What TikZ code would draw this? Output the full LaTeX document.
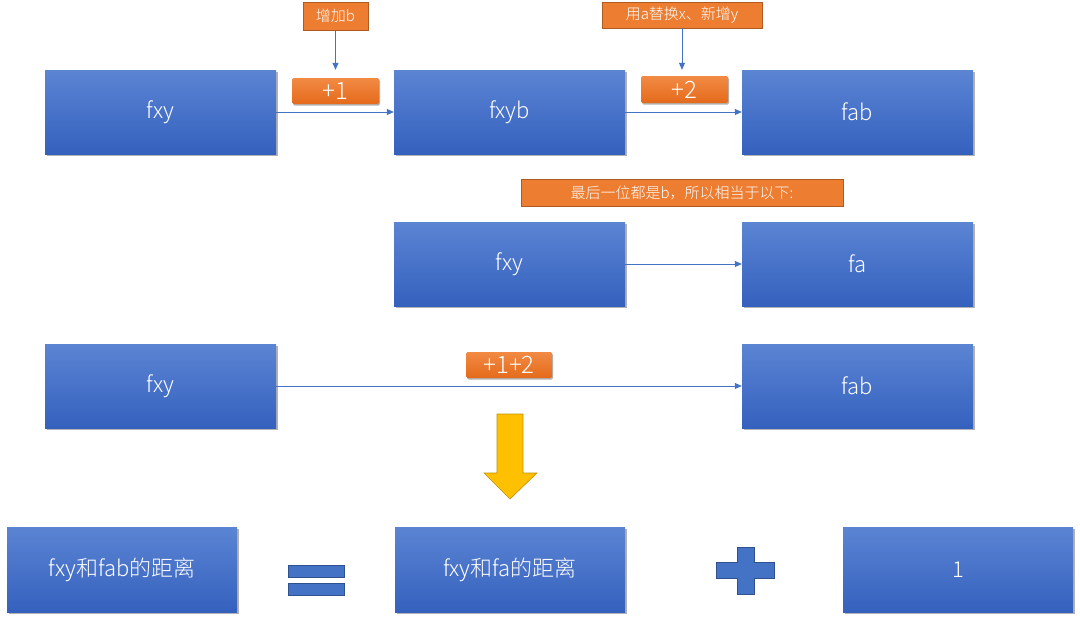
\documentclass[tikz,border=0pt]{standalone}
\usepackage{fontspec}
\setmainfont{Noto Sans CJK SC Light}
\usetikzlibrary{arrows.meta,shadows}
\definecolor{bluetop}{HTML}{5B84D3}
\definecolor{bluebot}{HTML}{3561BE}
\definecolor{blueline}{HTML}{4472C4}
\definecolor{blueedge}{HTML}{2F528F}
\definecolor{orng}{HTML}{ED7D31}
\definecolor{orngtop}{HTML}{F28A44}
\definecolor{orngbot}{HTML}{E46A1B}
\definecolor{orngedge}{HTML}{AE5A21}
\definecolor{yel}{HTML}{FFC000}
\definecolor{yeledge}{HTML}{BF9000}
\tikzset{
  bluebox/.style={draw=none, top color=bluetop, bottom color=bluebot,
    minimum width=231pt, minimum height=84pt, inner sep=0pt,
    text=white, font=\fontsize{22}{26}\selectfont,
    drop shadow={shadow xshift=1.5pt, shadow yshift=-2pt, opacity=0.3, fill=black}},
  notebox/.style={fill=orng, draw=orngedge, line width=0.6pt,
    inner sep=0pt, text=white, font=\fontsize{15}{18}\selectfont},
  plusbox/.style={top color=orngtop, bottom color=orngbot, draw=none,
    rounded corners=1.5pt, inner sep=0pt, text=white,
    font=\fontsize{24}{28}\selectfont,
    drop shadow={shadow xshift=1pt, shadow yshift=-1.5pt, opacity=0.3, fill=black}},
  conn/.style={draw=blueline, line width=0.7pt,
    -{Triangle[length=7pt,width=6pt]}},
  sym/.style={fill=blueline, draw=blueedge, line width=0.6pt},
}
\begin{document}
\begin{tikzpicture}[x=1pt,y=-1pt]
\useasboundingbox (0,0) rectangle (1080,621);
% row 1
\node[bluebox] (a1) at (160.5,112) {fxy};
\node[bluebox] (a2) at (509.5,112) {fxyb};
\node[bluebox] (a3) at (857.5,112) {fab};
% row 2
\node[bluebox] (b1) at (509.5,264) {fxy};
\node[bluebox] (b2) at (857.5,264) {fa};
% row 3
\node[bluebox] (c1) at (160.5,386) {fxy};
\node[bluebox] (c2) at (857.5,386) {fab};
% row 4
\node[bluebox, minimum width=230pt, minimum height=85pt] (d1) at (122,569.5) {fxy和fab的距离};
\node[bluebox, minimum width=230pt, minimum height=85pt] (d2) at (510,569.5) {fxy和fa的距离};
\node[bluebox, minimum width=230pt, minimum height=85pt] (d3) at (958,569.5) {1};
% notes
\node[notebox, minimum width=65pt, minimum height=28pt] (l1) at (335.5,16) {增加b};
\node[notebox, minimum width=160pt, minimum height=26pt] (l2) at (682,15) {用a替换x、新增y};
\node[notebox, minimum width=322pt, minimum height=27pt] (l3) at (682,192.5) {最后一位都是b，所以相当于以下:};
% plus labels
\node[plusbox, minimum width=87pt, minimum height=26pt] (p1) at (335.5,91) {+1};
\node[plusbox, minimum width=87pt, minimum height=27pt] (p2) at (684.5,89.5) {+2};
\node[plusbox, minimum width=86pt, minimum height=26pt] (p3) at (509,365) {+1+2};
% connectors
\draw[conn, shorten >=8pt] (l1.south) -- (l1.south |- p1.north);
\draw[conn, shorten >=6pt] (l2.south) -- (l2.south |- p2.north);
\draw[conn] (a1.east) -- (a2.west);
\draw[conn] (a2.east) -- (a3.west);
\draw[conn] (b1.east) -- (b2.west);
\draw[conn] (c1.east) -- (c2.west);
% yellow down arrow
\fill[yel, draw=yeledge, line width=0.6pt, line join=miter]
  (497,414) -- (523,414) -- (523,473) -- (537,473) -- (510,499) -- (484,473) -- (497,473) -- cycle;
% equals sign
\filldraw[sym] (288,565) rectangle (344,577);
\filldraw[sym] (288,583) rectangle (344,595);
% plus sign
\filldraw[sym] (737,547) -- (754,547) -- (754,562) -- (774,562) -- (774,578) -- (754,578)
  -- (754,594) -- (737,594) -- (737,578) -- (716,578) -- (716,562) -- (737,562) -- cycle;
\end{tikzpicture}
\end{document}
